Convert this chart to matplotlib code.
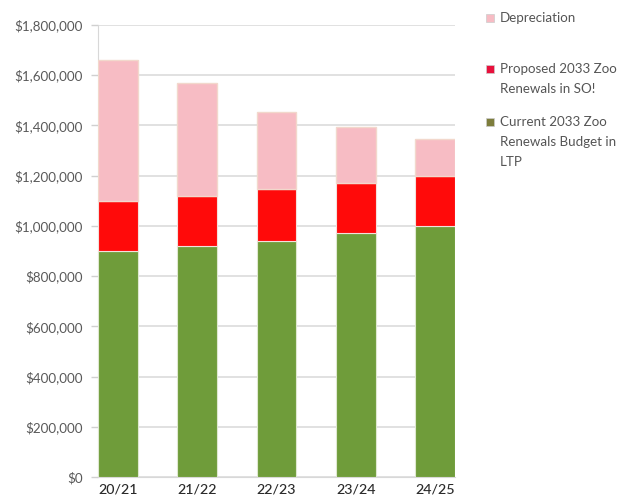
import matplotlib.pyplot as plt
import matplotlib.ticker as mticker
from matplotlib.patches import Rectangle
import numpy as np

years = ['20/21', '21/22', '22/23', '23/24', '24/25']
current_ltp = [900000, 920000, 940000, 970000, 1000000]
proposed_so = [200000, 200000, 205000, 200000, 200000]
depreciation = [560000, 450000, 310000, 225000, 145000]

series_labels = ['Depreciation',
                 'Proposed 2033 Zoo\nRenewals in SO!',
                 'Current 2033 Zoo\nRenewals Budget in\nLTP']

green = '#6f9c3a'
red = '#ff0a0a'
pink = '#f7bcc4'

plt.rcParams['font.family'] = ['Lato', 'DejaVu Sans']

fig = plt.figure(figsize=(6.24, 5.04), dpi=100)
ax = fig.add_axes([98 / 624, 27 / 504, 357 / 624, 452 / 504])

x = np.arange(len(years))
w = 0.5
base2 = np.array(current_ltp)
base3 = base2 + np.array(proposed_so)
ax.bar(x, current_ltp, w, color=green, edgecolor='#dfe8d0', linewidth=0.8, zorder=3)
ax.bar(x, proposed_so, w, bottom=base2, color=red, edgecolor='#f4e0dc', linewidth=0.8, zorder=3)
ax.bar(x, depreciation, w, bottom=base3, color=pink, edgecolor='#f2d8cc', linewidth=1.0, zorder=3)

ax.set_xlim(-0.25, 4.25)
ax.set_ylim(0, 1800000)
ax.yaxis.set_major_locator(mticker.MultipleLocator(200000))
ax.yaxis.set_major_formatter(mticker.FuncFormatter(lambda v, p: '${:,.0f}'.format(v)))
ax.grid(axis='y', color='#dcdcdc', linewidth=1.2, zorder=0)

ax.set_xticks(x)
ax.set_xticklabels(years, fontsize=10.3, color='#2a2a2a', fontweight='medium')
ax.tick_params(axis='x', length=0, pad=5)
ax.tick_params(axis='y', length=5, color='#d0d0d0', width=1, labelsize=9.6,
               labelcolor='#595959', pad=6)

for s in ['top', 'right']:
    ax.spines[s].set_visible(False)
ax.spines['left'].set_color('#d8d8d8')
ax.spines['bottom'].set_color('#d8d8d8')

# legend drawn by hand so each marker sits beside the first line of its label
legend_colors = [pink, '#e8103c', '#7d7d3c']
legend_y = [18, 69, 122]
for lab, col, yy in zip(series_labels, legend_colors, legend_y):
    fig.patches.append(Rectangle((486 / 624, 1 - (yy + 4) / 504), 8 / 624, 8 / 504,
                                 transform=fig.transFigure, facecolor=col,
                                 edgecolor='#cccccc', linewidth=0.5))
    fig.text(500 / 624, 1 - (yy - 6) / 504, lab, fontsize=9.6, color='#555555',
             va='top', ha='left', linespacing=1.8)

fig.savefig('out.png', dpi=100)
